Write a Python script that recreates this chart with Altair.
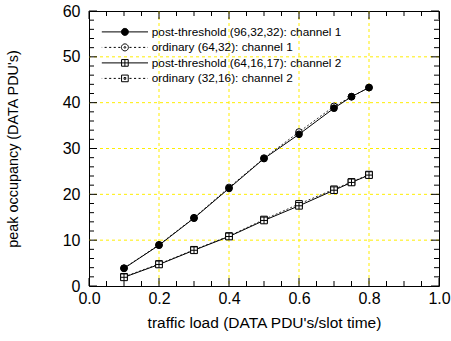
import math
import altair as alt
import pandas as pd

# ---------------- data ----------------
x_load = [0.1, 0.2, 0.3, 0.4, 0.5, 0.6, 0.7, 0.75, 0.8]
post_ch1 = [3.85, 8.9, 14.8, 21.3, 27.8, 33.1, 38.8, 41.3, 43.3]
ord_ch1 = [3.9, 9.0, 14.9, 21.5, 27.9, 33.6, 39.2, 41.3, 43.3]
post_ch2 = [1.9, 4.7, 7.8, 10.8, 14.3, 17.5, 20.9, 22.6, 24.2]
ord_ch2 = [2.0, 4.8, 7.9, 10.9, 14.5, 17.9, 21.1, 22.7, 24.3]

series_names = [
    "post-threshold (96,32,32): channel 1",
    "ordinary (64,32): channel 1",
    "post-threshold (64,16,17): channel 2",
    "ordinary (32,16): channel 2",
]
x_ticks = [0.0, 0.2, 0.4, 0.6, 0.8, 1.0]
x_grid = [0.2, 0.4, 0.6, 0.8]
x_minor = [0.05, 0.1, 0.15, 0.25, 0.3, 0.35, 0.45, 0.5, 0.55, 0.65, 0.7, 0.75, 0.85, 0.9, 0.95]
y_ticks = [0, 10, 20, 30, 40, 50, 60]
y_grid = [10, 20, 30, 40, 50]
y_minor = [2, 4, 6, 8, 12, 14, 16, 18, 22, 24, 26, 28, 32, 34, 36, 38, 42, 44, 46, 48, 52, 54, 56, 58]

rows = []
for name, vals in [(series_names[1], ord_ch1), (series_names[3], ord_ch2),
                   (series_names[0], post_ch1), (series_names[2], post_ch2)]:
    for xv, yv in zip(x_load, vals):
        rows.append({"x": xv, "y": yv, "series": name})
df = pd.DataFrame(rows)

# ---------------- symbol paths ----------------
def poly(r, n=24):
    pts = [(r * math.cos(2 * math.pi * i / n), r * math.sin(2 * math.pi * i / n)) for i in range(n)]
    return "M" + "L".join(f"{a:.3f},{b:.3f}" for a, b in pts) + "Z"

def sq(r):
    return f"M{-r},{-r}L{r},{-r}L{r},{r}L{-r},{r}Z"

L = 6.6
def solid_line(gap):
    return f"M{-L},0L{-gap},0M{gap},0L{L},0"

def dashed_line(gap, dash=0.6, space=0.7):
    segs = []
    a = gap
    while a < L:
        b = min(a + dash, L)
        segs.append(f"M{a:.2f},0L{b:.2f},0M{-a:.2f},0L{-b:.2f},0")
        a = b + space
    return "".join(segs)

legend_paths = [
    solid_line(1) + poly(1),
    dashed_line(1.3) + poly(1) + poly(0.25, 8),
    solid_line(0.95) + sq(0.95) + "M0,-0.95L0,0.95M-0.95,0L0.95,0",
    dashed_line(1.3) + sq(0.95) + sq(0.25),
]
marker_paths = [
    "circle",
    "circle",
    sq(1) + "M0,-1L0,1M-1,0L1,0",
    sq(1) + sq(0.2),
]
fills = ["black", "white", "white", "white"]

FONT = "Liberation Sans"
GRID = "#FFEE00"
W, H = 350, 275
MAJ, MIN = 8, 5

xs = alt.Scale(domain=[0, 1], nice=False, zero=False)
ys = alt.Scale(domain=[0, 60], nice=False, zero=False)

# one identical axis definition per channel, used by every layer (so they merge)
AX_X = alt.Axis(orient="bottom", values=x_ticks, format=".1f", ticks=False, domain=False, grid=False,
                labelFlush=False, labelPadding=4, labelFontSize=16,
                title="traffic load (DATA PDU's/slot time)", titleFontSize=15.5, titlePadding=9)
AX_Y = alt.Axis(orient="left", values=y_ticks, ticks=False, domain=False, grid=False,
                labelFlush=False, labelPadding=9, labelFontSize=16,
                title="peak occupancy (DATA PDU's)", titleFontSize=14.4, titlePadding=42)

def X():
    return alt.X("x:Q", scale=xs, axis=AX_X)

def Y():
    return alt.Y("y:Q", scale=ys, axis=AX_Y)

base = alt.Chart(df)

# grid lines (through the scales, full span)
grid_x = alt.Chart(pd.DataFrame({"x": x_grid})).mark_rule(
    color=GRID, strokeWidth=1, strokeDash=[3, 3]).encode(x=X())
grid_y = alt.Chart(pd.DataFrame({"y": y_grid})).mark_rule(
    color=GRID, strokeWidth=1, strokeDash=[3, 3]).encode(y=Y())

ord_lines = base.transform_filter(
    alt.FieldOneOfPredicate(field="series", oneOf=[series_names[1], series_names[3]])
).mark_line(color="#333333", strokeWidth=1, strokeDash=[2, 2]).encode(
    x=X(), y=Y(), detail="series:N",
)

post_lines = base.transform_filter(
    alt.FieldOneOfPredicate(field="series", oneOf=[series_names[0], series_names[2]])
).mark_line(color="black", strokeWidth=1).encode(
    x=X(), y=Y(), detail="series:N",
)

points = base.mark_point(filled=True, stroke="black", strokeWidth=1, opacity=1, size=45).encode(
    x=X(), y=Y(),
    shape=alt.Shape("series:N", scale=alt.Scale(domain=series_names, range=marker_paths), legend=None),
    fill=alt.Fill("series:N", scale=alt.Scale(domain=series_names, range=fills), legend=None),
)

# inward tick marks on all four sides
def xticks(vals, size):
    d = alt.Chart(pd.DataFrame({"x": vals})).mark_rule(color="black", strokeWidth=1)
    return [d.encode(x=X(), y=alt.value(H), y2=alt.value(H - size)),
            d.encode(x=X(), y=alt.value(0), y2=alt.value(size))]

def yticks(vals, size):
    d = alt.Chart(pd.DataFrame({"y": vals})).mark_rule(color="black", strokeWidth=1)
    return [d.encode(y=Y(), x=alt.value(0), x2=alt.value(size)),
            d.encode(y=Y(), x=alt.value(W), x2=alt.value(W - size))]

tick_layers = xticks(x_ticks, MAJ) + xticks(x_minor, MIN) + yticks(y_ticks, MAJ) + yticks(y_minor, MIN)

leg = alt.Legend(orient="none", legendX=30, legendY=15, title=None, symbolSize=49,
                 symbolStrokeWidth=1, labelFont=FONT, labelFontSize=11.8, labelColor="black",
                 labelOffset=21, rowPadding=2.5, labelLimit=400, padding=0)

# legend only (no marks drawn)
legend_layer = base.transform_filter("datum.x < 0").mark_point(
    filled=True, stroke="black", strokeWidth=1, opacity=1).encode(
    x=X(), y=Y(),
    shape=alt.Shape("series:N", scale=alt.Scale(domain=series_names, range=legend_paths), legend=leg),
    fill=alt.Fill("series:N", scale=alt.Scale(domain=series_names, range=fills), legend=leg),
)

chart = alt.layer(grid_x, grid_y, ord_lines, post_lines, points, *tick_layers, legend_layer).resolve_scale(
    shape="independent", fill="independent"
).properties(
    width=W, height=H,
    autosize=alt.AutoSizeParams(type="none"),
    padding={"left": 89, "top": 11, "right": 12, "bottom": 55},
    background="white",
).configure_view(stroke="black", strokeWidth=1).configure_axis(
    labelFont=FONT, titleFont=FONT, labelColor="black", titleColor="black",
    titleFontWeight="normal",
)

chart.save("out.html", embed_options={"renderer": "svg", "actions": False})
